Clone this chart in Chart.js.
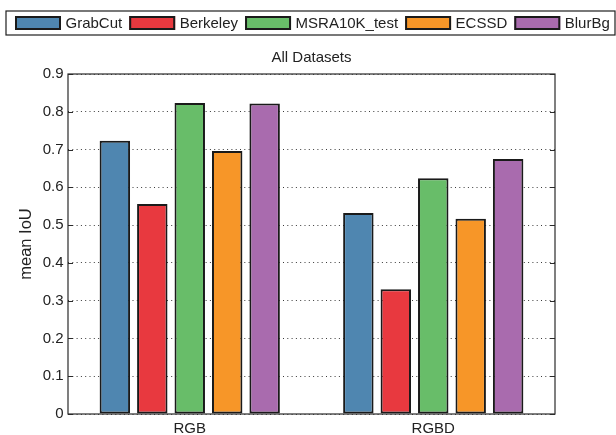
<!DOCTYPE html>
<html>
<head>
<meta charset="utf-8">
<title>All Datasets – mean IoU</title>
<script src="https://cdn.jsdelivr.net/npm/chart.js@4/dist/chart.umd.min.js"></script>
<style>
  html, body { margin: 0; padding: 0; background: #ffffff; }
  #wrap { width: 616px; height: 435px; }
</style>
</head>
<body>
<div id="wrap"><canvas id="chart" width="616" height="435"></canvas></div>
<script>
// Categories and per-dataset mean IoU values
const categories = ['RGB', 'RGBD'];
const seriesNames = ['GrabCut', 'Berkeley', 'MSRA10K_test', 'ECSSD', 'BlurBg'];
const grabCutIoU  = [0.723, 0.532];
const berkeleyIoU = [0.556, 0.330];
const msraIoU     = [0.823, 0.624];
const ecssdIoU    = [0.696, 0.517];
const blurBgIoU   = [0.822, 0.675];
const yTickLabels = ['0', '0.1', '0.2', '0.3', '0.4', '0.5', '0.6', '0.7', '0.8', '0.9'];

const seriesValues = [grabCutIoU, berkeleyIoU, msraIoU, ecssdIoU, blurBgIoU];
const seriesColors = ['#4f86b0', '#e8393f', '#68bd69', '#f79628', '#a96bae'];

const FONT = '"Liberation Sans", Arial, Helvetica, sans-serif';
const INK = '#222222';

// Boxed legend row across the top of the figure
const boxedLegend = {
  id: 'boxedLegend',
  afterDraw(chart) {
    const ctx = chart.ctx;
    ctx.save();
    ctx.font = '15px ' + FONT;
    ctx.textBaseline = 'middle';
    ctx.textAlign = 'left';
    ctx.strokeStyle = '#1e1e1e';
    ctx.lineWidth = 1.2;
    ctx.strokeRect(6, 11, 609, 24);
    let x = 15;
    const swW = 46, swH = 14, swY = 16, textY = 23.5;
    chart.data.datasets.forEach(ds => {
      ctx.fillStyle = ds.backgroundColor;
      ctx.fillRect(x, swY, swW, swH);
      ctx.lineWidth = 2;
      ctx.strokeStyle = '#1a1a1a';
      ctx.strokeRect(x + 1, swY + 1, swW - 2, swH - 2);
      x += swW + 4.5;
      ctx.fillStyle = INK;
      ctx.fillText(ds.label, x, textY);
      x += ctx.measureText(ds.label).width + 7;
    });
    ctx.restore();
  }
};

// Box around the plot area with short inward tick marks on both sides
const plotFrame = {
  id: 'plotFrame',
  afterDatasetsDraw(chart) {
    const { ctx, chartArea: a, scales } = chart;
    const y = scales.y;
    ctx.save();
    ctx.strokeStyle = '#2a2a2a';
    ctx.lineWidth = 1.2;
    y.ticks.forEach(t => {
      const py = Math.round(y.getPixelForValue(t.value)) + 0.5;
      ctx.beginPath();
      ctx.moveTo(a.left, py); ctx.lineTo(a.left + 5, py);
      ctx.moveTo(a.right, py); ctx.lineTo(a.right - 5, py);
      ctx.stroke();
    });
    ctx.strokeRect(a.left, a.top, a.right - a.left, a.bottom - a.top);
    ctx.restore();
  }
};

Chart.defaults.font.family = FONT;
Chart.defaults.font.size = 15;
Chart.defaults.color = INK;

new Chart(document.getElementById('chart'), {
  type: 'bar',
  data: {
    labels: categories,
    datasets: seriesNames.map((name, i) => ({
      label: name,
      data: seriesValues[i],
      backgroundColor: seriesColors[i],
      borderColor: '#1a1a1a',
      borderWidth: 2,
      borderSkipped: false,
      categoryPercentage: 0.769,
      barPercentage: 0.813
    }))
  },
  options: {
    responsive: false,
    animation: false,
    devicePixelRatio: 1,
    layout: { padding: { top: 49, right: 0, left: 7, bottom: 0 } },
    plugins: {
      legend: { display: false },
      tooltip: { enabled: false },
      title: {
        display: true,
        text: 'All Datasets',
        color: INK,
        font: { size: 15, weight: 'normal' },
        padding: { top: 0, bottom: 7 }
      }
    },
    scales: {
      x: {
        grid: { display: false, drawTicks: false },
        border: { display: false },
        ticks: { padding: 6, color: INK, font: { size: 15 } },
        afterFit(s) { s.height = 21; }
      },
      y: {
        min: 0,
        max: 0.9,
        ticks: {
          stepSize: 0.1,
          padding: 4.5,
          color: INK,
          font: { size: 15 },
          callback: (v, i) => yTickLabels[i]
        },
        grid: {
          drawTicks: false,
          color: '#3a3a3a',
          lineWidth: 1
        },
        border: { display: false, dash: [1, 3.3] },
        title: {
          display: true,
          text: 'mean IoU',
          color: INK,
          font: { size: 16.5 },
          padding: { top: 10, bottom: 0 }
        },
        afterFit(s) { s.width = 61; }
      },
      // empty margin on the right so the title centres over the plot
      yRight: {
        position: 'right',
        min: 0,
        max: 0.9,
        grid: { display: false, drawTicks: false },
        border: { display: false },
        ticks: { display: false },
        afterFit(s) { s.width = 61; }
      }
    }
  },
  plugins: [boxedLegend, plotFrame]
});
</script>
</body>
</html>
